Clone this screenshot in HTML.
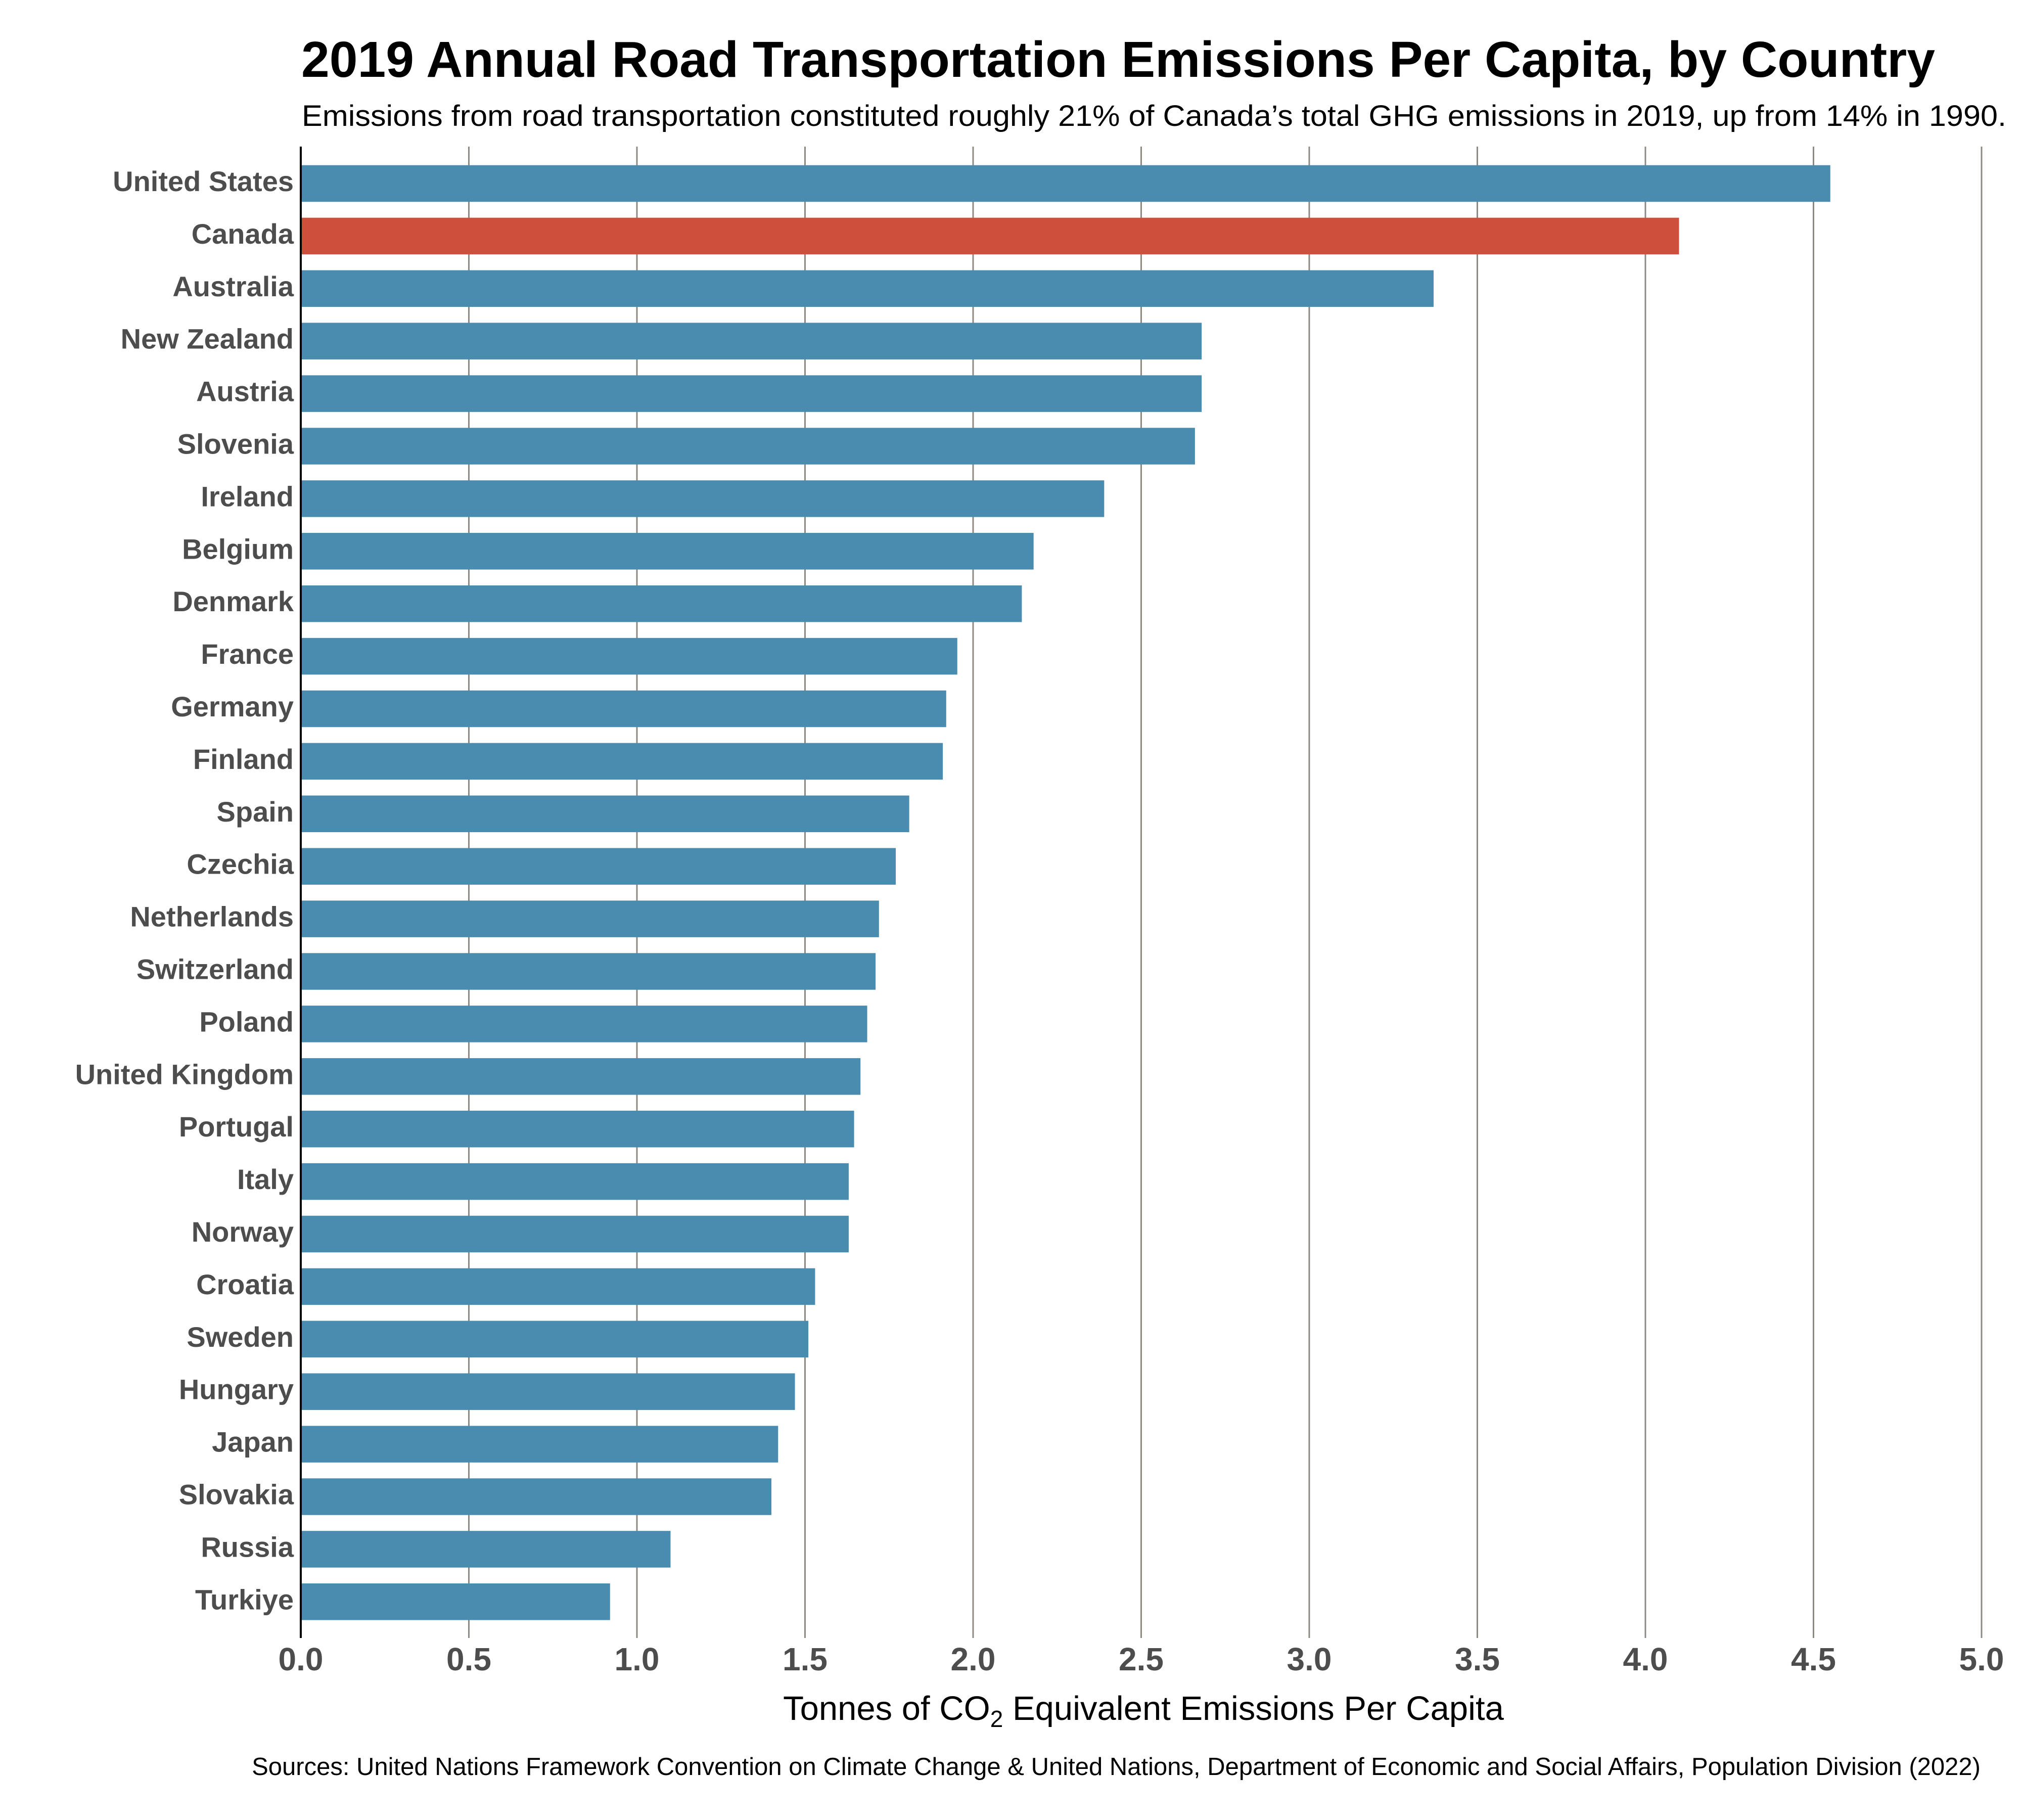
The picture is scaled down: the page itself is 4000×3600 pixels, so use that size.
<!DOCTYPE html>
<html><head><meta charset="utf-8"><style>html,body{margin:0;padding:0;background:#fff}svg{display:block}</style></head>
<body>
<svg id="chart" width="4000" height="3600" viewBox="0 0 4000 3600" xmlns="http://www.w3.org/2000/svg" font-family="Liberation Sans, Arial, sans-serif">
<rect width="4000" height="3600" fill="#fff"/>
<text x="596" y="152" font-size="100" font-weight="bold" fill="#000" textLength="3232" lengthAdjust="spacingAndGlyphs">2019 Annual Road Transportation Emissions Per Capita, by Country</text>
<text x="597" y="249" font-size="58" fill="#000" textLength="3372" lengthAdjust="spacingAndGlyphs">Emissions from road transportation constituted roughly 21% of Canada’s total GHG emissions in 2019, up from 14% in 1990.</text>
<g id="grid"></g>
<g id="bars"></g>
<g id="ylabels"></g>
<g id="xlabels"></g>
<line x1="595" y1="290" x2="595" y2="3240" stroke="#000" stroke-width="4"/>
<text x="2262" y="3402" font-size="67" fill="#000" text-anchor="middle">Tonnes of CO<tspan font-size="46" dy="14">2</tspan><tspan dy="-14"> Equivalent Emissions Per Capita</tspan></text>
<text x="3918" y="3511" font-size="49" fill="#000" text-anchor="end">Sources: United Nations Framework Convention on Climate Change &amp; United Nations, Department of Economic and Social Affairs, Population Division (2022)</text>
</svg>
<script>
const countries = ["United States","Canada","Australia","New Zealand","Austria","Slovenia","Ireland","Belgium","Denmark","France","Germany","Finland","Spain","Czechia","Netherlands","Switzerland","Poland","United Kingdom","Portugal","Italy","Norway","Croatia","Sweden","Hungary","Japan","Slovakia","Russia","Turkiye"];
const emissions = [4.55,4.10,3.37,2.68,2.68,2.66,2.39,2.18,2.145,1.953,1.92,1.91,1.81,1.77,1.72,1.71,1.685,1.665,1.646,1.63,1.63,1.53,1.51,1.47,1.42,1.40,1.10,0.92];
const xTicks = [0,0.5,1.0,1.5,2.0,2.5,3.0,3.5,4.0,4.5,5.0];
const xTickLabels = ["0.0","0.5","1.0","1.5","2.0","2.5","3.0","3.5","4.0","4.5","5.0"];
const highlight = "Canada";

const NS = "http://www.w3.org/2000/svg";
const X0 = 595, X1 = 3920, XMAX = 5;
const xScale = v => X0 + (v / XMAX) * (X1 - X0);
const TOP = 290, BOTTOM = 3240, firstCenter = 363, pitch = 103.9, barH = 72.5;
const yScale = i => firstCenter + i * pitch;

const grid = document.getElementById('grid');
xTicks.forEach((t, i) => {
  if (t === 0) return;
  const l = document.createElementNS(NS, 'line');
  
  
  l.setAttribute('x1', xScale(t)); l.setAttribute('x2', xScale(t));
  l.setAttribute('y1', TOP); l.setAttribute('y2', BOTTOM);
  l.setAttribute('stroke', '#8f8983'); l.setAttribute('stroke-width', '3');
  grid.appendChild(l);
});
const xl = document.getElementById('xlabels');
xTicks.forEach((t, i) => {
  const tx = document.createElementNS(NS, 'text');
  
  
  tx.setAttribute('x', xScale(t)); tx.setAttribute('y', 3304);
  tx.setAttribute('text-anchor', 'middle');
  tx.setAttribute('font-size', '64'); tx.setAttribute('font-weight', 'bold');
  tx.setAttribute('fill', '#4d4d4d');
  tx.textContent = xTickLabels[i];
  xl.appendChild(tx);
});
const bars = document.getElementById('bars');
const yl = document.getElementById('ylabels');
countries.forEach((c, i) => {
  const r = document.createElementNS(NS, 'rect');
  
  
  r.setAttribute('x', X0); r.setAttribute('y', yScale(i) - barH / 2);
  r.setAttribute('width', xScale(emissions[i]) - X0); r.setAttribute('height', barH);
  r.setAttribute('fill', c === highlight ? '#cd4f3c' : '#4a8caf');
  bars.appendChild(r);
  const t = document.createElementNS(NS, 'text');
  
  
  t.setAttribute('x', 581); t.setAttribute('y', yScale(i) + 15);
  t.setAttribute('text-anchor', 'end');
  t.setAttribute('font-size', '56'); t.setAttribute('font-weight', 'bold');
  t.setAttribute('fill', '#4d4d4d');
  t.textContent = c;
  yl.appendChild(t);
});
</script>
</body></html>
